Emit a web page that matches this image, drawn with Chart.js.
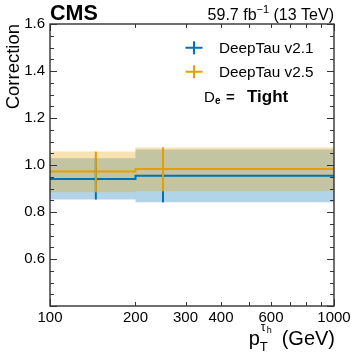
<!DOCTYPE html>
<html>
<head>
<meta charset="utf-8">
<script src="https://cdn.jsdelivr.net/npm/chart.js@4.4.1/dist/chart.umd.min.js"></script>
<style>
  html, body { margin: 0; padding: 0; background: #fff; }
  canvas { display: block; }
</style>
</head>
<body>
<canvas id="c" width="357" height="354"></canvas>
<script>
// bins in pT (GeV) and where the error bars sit
const binEdges = [100, 200, 1000];
const xMarks = [145, 250];

// DeepTau v2.1
const v21 = [0.940, 0.954];
const v21Up = [1.029, 1.066];
const v21Dn = [0.853, 0.841];
// DeepTau v2.5
const v25 = [0.972, 0.983];
const v25Up = [1.057, 1.075];
const v25Dn = [0.884, 0.888];

const xTicks = [100, 200, 300, 400, 600, 1000];
const xMinor = [200, 300, 400, 500, 600, 700, 800, 900];
const xMajor = [100, 1000];
const yTicks = [0.6, 0.8, 1.0, 1.2, 1.4, 1.6];

const BLUE = "#0072B2";
const ORANGE = "#E69F00";
const FONT = "'Liberation Sans', Arial, Helvetica, sans-serif";

// bin value held from the left edge until the next edge
const step = vals => binEdges.map((x, i) => ({ x, y: vals[Math.min(i, vals.length - 1)] }));
const marks = vals => xMarks.map((x, i) => ({ x, y: vals[i] }));

const bandDs = (vals, fill, color, order) => ({
  type: "line", data: step(vals), stepped: "before", borderWidth: 0, pointRadius: 0,
  fill: fill, backgroundColor: color, order,
});

const decor = {
  id: "decor",
  afterDatasetsDraw(chart) {
    const { ctx, scales: { x, y } } = chart;
    ctx.save();
    // error bars
    [[v21Up, v21Dn, BLUE], [v25Up, v25Dn, ORANGE]].forEach(([up, dn, col]) => {
      ctx.strokeStyle = col;
      ctx.lineWidth = 2;
      xMarks.forEach((xv, i) => {
        const px = x.getPixelForValue(xv);
        ctx.beginPath();
        ctx.moveTo(px, y.getPixelForValue(up[i]));
        ctx.lineTo(px, y.getPixelForValue(dn[i]));
        ctx.stroke();
      });
    });
    ctx.restore();
  },
  afterDraw(chart) {
    const { ctx, chartArea: a, scales: { x, y } } = chart;
    ctx.save();
    // frame
    ctx.strokeStyle = "#222";
    ctx.lineWidth = 1.3;
    ctx.strokeRect(a.left, a.top, a.right - a.left, a.bottom - a.top);

    // inward ticks
    ctx.lineWidth = 1;
    ctx.strokeStyle = "#333";
    const tx = (v, len) => {
      const p = Math.round(x.getPixelForValue(v)) + 0.5;
      ctx.beginPath();
      ctx.moveTo(p, a.bottom); ctx.lineTo(p, a.bottom - len);
      ctx.moveTo(p, a.top); ctx.lineTo(p, a.top + len);
      ctx.stroke();
    };
    xMinor.forEach(v => tx(v, 4));
    xMajor.forEach(v => tx(v, 7));
    const ty = (v, len) => {
      const p = Math.round(y.getPixelForValue(v)) + 0.5;
      ctx.beginPath();
      ctx.moveTo(a.left, p); ctx.lineTo(a.left + len, p);
      ctx.moveTo(a.right, p); ctx.lineTo(a.right - len, p);
      ctx.stroke();
    };
    for (let k = 0; k <= 24; k++) {
      const v = 0.4 + k * 0.05;
      ty(v, k % 4 === 0 ? 7 : 4);
    }

    ctx.fillStyle = "#000";
    // CMS label
    ctx.font = "bold 21.5px " + FONT;
    ctx.textAlign = "left";
    ctx.textBaseline = "alphabetic";
    ctx.fillText("CMS", a.left, 20);

    // lumi label
    ctx.font = "16px " + FONT;
    const tail = " (13 TeV)";
    const head = "59.7 fb";
    const sup = "\u22121";
    const wTail = ctx.measureText(tail).width;
    const wHead = ctx.measureText(head).width;
    ctx.font = "11px " + FONT;
    const wSup = ctx.measureText(sup).width;
    const xr = a.right;
    ctx.font = "16px " + FONT;
    ctx.fillText(tail, xr - wTail, 20);
    ctx.font = "11px " + FONT;
    ctx.fillText(sup, xr - wTail - wSup, 13);
    ctx.font = "16px " + FONT;
    ctx.fillText(head, xr - wTail - wSup - wHead, 20);

    // y title
    ctx.save();
    ctx.translate(18.5, a.top);
    ctx.rotate(-Math.PI / 2);
    ctx.font = "18.5px " + FONT;
    ctx.textAlign = "right";
    ctx.fillText("Correction", 0, 0);
    ctx.restore();

    // x title
    ctx.font = "20px " + FONT;
    ctx.textAlign = "right";
    ctx.fillText("(GeV)", a.right + 1, 345);
    const gx = a.right + 1 - ctx.measureText("(GeV)").width;
    ctx.textAlign = "left";
    const px = gx - 33;
    ctx.fillText("p", px, 345);
    ctx.font = "13px " + FONT;
    ctx.fillText("T", px + 11, 351);
    ctx.font = "12px " + FONT;
    ctx.fillText("\u03c4", px + 12, 331);
    ctx.font = "9px " + FONT;
    ctx.fillText("h", px + 18, 333);

    // legend
    [[BLUE, "DeepTau v2.1", 47.7, 53], [ORANGE, "DeepTau v2.5", 71.7, 77]].forEach(([col, txt, cy, base]) => {
      ctx.strokeStyle = col;
      ctx.lineWidth = 2;
      ctx.beginPath();
      ctx.moveTo(185.5, cy); ctx.lineTo(202.5, cy);
      ctx.moveTo(194, cy - 6.5); ctx.lineTo(194, cy + 6.5);
      ctx.stroke();
      ctx.fillStyle = "#000";
      ctx.font = "15.3px " + FONT;
      ctx.fillText(txt, 219, base);
    });

    // working point label
    ctx.font = "15px " + FONT;
    ctx.fillText("D", 204, 102);
    ctx.font = "bold 10px " + FONT;
    ctx.fillText("e", 215, 104);
    ctx.font = "bold 15px " + FONT;
    ctx.fillText("=", 226, 102);
    ctx.font = "bold 17px " + FONT;
    ctx.fillText("Tight", 247, 102);
    ctx.restore();
  },
};

new Chart(document.getElementById("c"), {
  data: {
    datasets: [
      bandDs(v21Up, false, "transparent", 8),
      bandDs(v21Dn, "-1", "rgba(0,114,178,0.3)", 7),
      bandDs(v25Up, false, "transparent", 6),
      bandDs(v25Dn, "-1", "rgba(230,159,0,0.3)", 5),
      { type: "line", data: step(v21), stepped: "before", borderColor: BLUE, borderWidth: 2, pointRadius: 0, fill: false, order: 4 },
      { type: "line", data: step(v25), stepped: "before", borderColor: ORANGE, borderWidth: 2, pointRadius: 0, fill: false, order: 3 },
      { type: "scatter", data: marks(v25), pointStyle: "rect", pointRadius: 2, backgroundColor: ORANGE, borderWidth: 0, order: 2 },
      { type: "scatter", data: marks(v21), pointStyle: "rect", pointRadius: 2, backgroundColor: BLUE, borderWidth: 0, order: 1 },
    ],
  },
  options: {
    responsive: false,
    animation: false,
    devicePixelRatio: 1,
    layout: { padding: { top: 24, right: 23, left: 0, bottom: 0 } },
    plugins: { legend: { display: false }, tooltip: { enabled: false } },
    scales: {
      x: {
        type: "logarithmic", min: 100, max: 1000,
        grid: { display: false, drawTicks: false },
        border: { display: false },
        afterBuildTicks: s => { s.ticks = xTicks.map(v => ({ value: v })); },
        afterFit: s => { s.height = 48; },
        ticks: { color: "#000", padding: 3, maxRotation: 0, autoSkip: false, font: { family: FONT, size: 15 }, callback: v => String(v) },
      },
      y: {
        type: "linear", min: 0.4, max: 1.6,
        grid: { display: false, drawTicks: false },
        border: { display: false },
        afterBuildTicks: s => { s.ticks = yTicks.map(v => ({ value: v })); },
        afterFit: s => { s.width = 50; },
        ticks: { color: "#000", padding: 5, font: { family: FONT, size: 15 }, callback: v => v.toFixed(1) },
      },
    },
  },
  plugins: [decor],
});
</script>
</body>
</html>
